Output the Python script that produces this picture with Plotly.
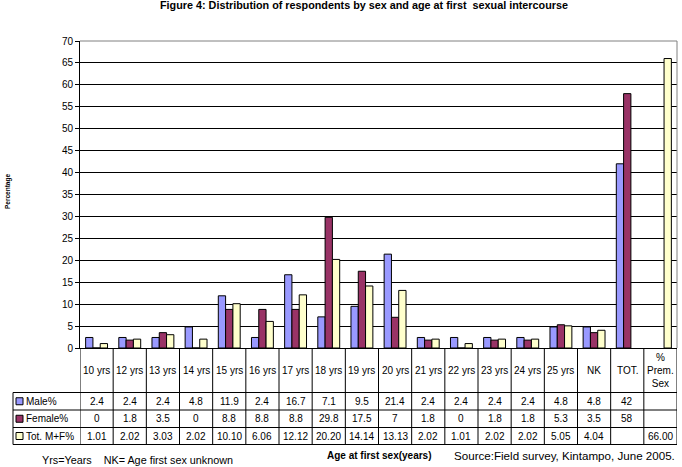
import plotly.graph_objects as go

categories = ["10 yrs", "12 yrs", "13 yrs", "14 yrs", "15 yrs", "16 yrs", "17 yrs", "18 yrs",
              "19 yrs", "20 yrs", "21 yrs", "22 yrs", "23 yrs", "24 yrs", "25 yrs", "NK", "TOT.",
              "%<br>Prem.<br>Sex"]
male = [2.4, 2.4, 2.4, 4.8, 11.9, 2.4, 16.7, 7.1, 9.5, 21.4, 2.4, 2.4, 2.4, 2.4, 4.8, 4.8, 42, None]
female = [0, 1.8, 3.5, 0, 8.8, 8.8, 8.8, 29.8, 17.5, 7, 1.8, 0, 1.8, 1.8, 5.3, 3.5, 58, None]
total = [1.01, 2.02, 3.03, 2.02, 10.10, 6.06, 12.12, 20.20, 14.14, 13.13, 2.02, 1.01, 2.02, 2.02,
         5.05, 4.04, None, 66.00]
series_names = ["Male%", "Female%", "Tot. M+F%"]
series_colors = ["#9999FF", "#993366", "#FFFFCC"]
y_ticks = list(range(0, 75, 5))

FONT = "Liberation Sans, Arial, sans-serif"
W, H = 682, 467
L, R, T, B = 80, 5, 41, 119
PH = H - T - B
PW = W - L - R


def yp(pix):
    return (H - B - pix) / PH


def xp(pix):
    return (pix - L) / PW


xs = list(range(len(categories)))
fig = go.Figure()
for name, vals, col in zip(series_names, [male, female, total], series_colors):
    fig.add_trace(go.Bar(x=xs, y=vals, name=name, marker=dict(color=col, line=dict(color="black", width=1)),
                         showlegend=False))

shapes = []
annotations = []
n = len(categories)
y_head_bot = 392.5
row_lines = [y_head_bot, 410, 427.5, 444.5]
left_px = 13

for k in range(n + 1):
    shapes.append(dict(type="line", xref="x", yref="paper", x0=k - 0.5, x1=k - 0.5,
                       y0=yp(H - B), y1=yp(row_lines[-1]), line=dict(color="black", width=1)))
shapes.append(dict(type="line", xref="paper", yref="paper", x0=xp(left_px), x1=xp(left_px),
                   y0=yp(row_lines[0]), y1=yp(row_lines[-1]), line=dict(color="black", width=1)))
for r in row_lines:
    shapes.append(dict(type="line", xref="paper", yref="paper", x0=xp(left_px), x1=1,
                       y0=yp(r), y1=yp(r), line=dict(color="black", width=1)))
shapes.append(dict(type="line", xref="paper", yref="paper", x0=0, x1=1, y0=1, y1=1,
                   line=dict(color="#808080", width=1), layer="above"))
shapes.append(dict(type="line", xref="paper", yref="paper", x0=1, x1=1, y0=0, y1=1,
                   line=dict(color="#808080", width=1), layer="above"))

for i, c in enumerate(categories):
    annotations.append(dict(x=i, y=yp((H - B + y_head_bot) / 2), xref="x", yref="paper", text=c,
                            showarrow=False, font=dict(family=FONT, size=10, color="black"),
                            xanchor="center", yanchor="middle"))


def fmt(v, dec):
    if v is None:
        return ""
    return f"{v:.2f}" if dec else f"{v:g}"


for ri, (name, vals, col) in enumerate(zip(series_names, [male, female, total], series_colors)):
    ytop, ybot = row_lines[ri], row_lines[ri + 1]
    ymid = (ytop + ybot) / 2
    shapes.append(dict(type="rect", xref="paper", yref="paper", x0=xp(16), x1=xp(23),
                       y0=yp(ymid + 3.5), y1=yp(ymid - 3.5), fillcolor=col,
                       line=dict(color="black", width=1)))
    annotations.append(dict(x=xp(24), y=yp(ymid), xref="paper", yref="paper", text=name,
                            showarrow=False, font=dict(family=FONT, size=10, color="black"),
                            xanchor="left", yanchor="middle"))
    for i, v in enumerate(vals):
        t = fmt(v, ri == 2)
        if t:
            annotations.append(dict(x=i, y=yp(ymid), xref="x", yref="paper", text=t,
                                    showarrow=False, font=dict(family=FONT, size=10, color="black"),
                                    xanchor="center", yanchor="middle"))

annotations.append(dict(x=xp(364), y=yp(5), xref="paper", yref="paper",
                        text="<b>Figure 4: Distribution of respondents by sex and age at first  sexual intercourse</b>",
                        showarrow=False, font=dict(family=FONT, size=10.8, color="black"),
                        xanchor="center", yanchor="middle"))
annotations.append(dict(x=xp(8), y=yp(192), xref="paper", yref="paper", text="<b>Percentage</b>",
                        textangle=-90, showarrow=False, font=dict(family=FONT, size=6.5, color="black"),
                        xanchor="center", yanchor="middle"))
annotations.append(dict(x=xp(40), y=yp(460), xref="paper", yref="paper",
                        text="Yrs=Years    NK= Age first sex unknown",
                        showarrow=False, font=dict(family=FONT, size=10.8, color="black"),
                        xanchor="left", yanchor="middle"))
annotations.append(dict(x=xp(325), y=yp(455), xref="paper", yref="paper",
                        text="<b>Age at first sex(years)</b>",
                        showarrow=False, font=dict(family=FONT, size=10, color="black"),
                        xanchor="left", yanchor="middle"))
annotations.append(dict(x=xp(677), y=yp(455), xref="paper", yref="paper",
                        text="Source:Field survey, Kintampo, June 2005.",
                        showarrow=False, font=dict(family=FONT, size=11.6, color="black"),
                        xanchor="right", yanchor="middle"))

fig.update_layout(
    width=W, height=H, margin=dict(l=L, r=R, t=T, b=B, pad=0),
    paper_bgcolor="white", plot_bgcolor="white",
    barmode="group", bargap=0.34, bargroupgap=0,
    xaxis=dict(range=[-0.5, n - 0.5], showticklabels=False, ticks="", showgrid=False,
               zeroline=False, showline=True, linecolor="black", linewidth=1, fixedrange=True),
    yaxis=dict(range=[0, 70], tickvals=y_ticks, ticktext=[str(v) for v in y_ticks],
               showgrid=True, gridcolor="black", gridwidth=1, zeroline=False,
               showline=True, linecolor="black", linewidth=1, ticks="outside", ticklen=4,
               tickcolor="black", tickfont=dict(family=FONT, size=10, color="black"), fixedrange=True),
    shapes=shapes, annotations=annotations, showlegend=False,
)

fig.write_html("out.html", config={"displayModeBar": False},
               post_script="document.body.style.margin='0px';document.body.style.overflow='hidden';")
